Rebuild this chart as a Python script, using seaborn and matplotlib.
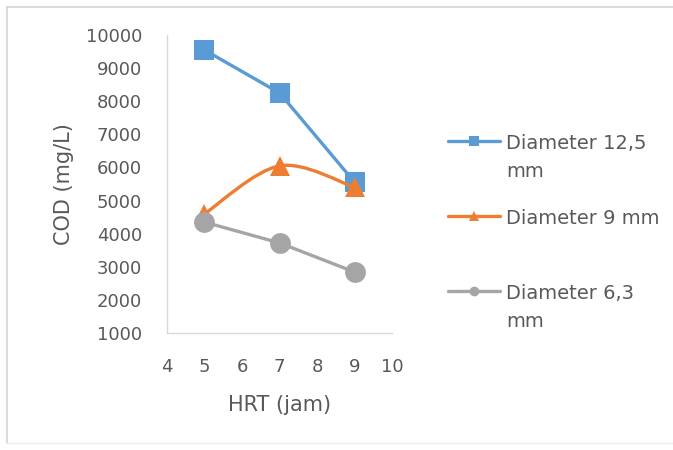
import numpy as np
import pandas as pd
import matplotlib
matplotlib.use("Agg")
import matplotlib.pyplot as plt
from matplotlib.path import Path
from matplotlib.patches import PathPatch
from matplotlib.lines import Line2D
import seaborn as sns

# HRT (hours) and COD (mg/L) for each media diameter
hrt = [5, 7, 9]
cod_12_5 = [9550, 8250, 5550]
cod_9 = [4600, 6050, 5400]
cod_6_3 = [4350, 3720, 2840]

series_labels = ["Diameter 12,5\nmm", "Diameter 9 mm", "Diameter 6,3\nmm"]
x_ticks = [4, 5, 6, 7, 8, 9, 10]
y_ticks = [1000, 2000, 3000, 4000, 5000, 6000, 7000, 8000, 9000, 10000]

BLUE = "#5B9BD5"
ORANGE = "#ED7D31"
GRAY = "#A5A5A5"
TEXT = "#595959"

sns.set_theme(style="white")
plt.rcParams["font.family"] = ["DejaVu Sans"]

fig = plt.figure(figsize=(6.73, 4.5), dpi=100)
fig.patch.set_facecolor("white")
ax = fig.add_axes([0.248, 0.26, 0.335, 0.662])

df = pd.DataFrame({"hrt": hrt, "c125": cod_12_5, "c9": cod_9, "c63": cod_6_3})

# Diameter 12,5 mm: straight segments with square markers
sns.lineplot(data=df, x="hrt", y="c125", ax=ax, color=BLUE, linewidth=2.4,
             marker="s", markersize=15, markeredgewidth=0, zorder=3)


def smooth_path(xs, ys):
    """Cubic Bezier path through the points (Catmull-Rom tangents)."""
    pts = np.column_stack([xs, ys]).astype(float)
    ext = np.vstack([pts[0], pts, pts[-1]])
    verts = [tuple(pts[0])]
    codes = [Path.MOVETO]
    for i in range(len(pts) - 1):
        p0, p1, p2, p3 = ext[i], ext[i + 1], ext[i + 2], ext[i + 3]
        c1 = p1 + (p2 - p0) / 6.0
        c2 = p2 - (p3 - p1) / 6.0
        verts += [tuple(c1), tuple(c2), tuple(p2)]
        codes += [Path.CURVE4] * 3
    return Path(verts, codes)


# Diameter 9 mm: smoothed line with triangle markers
ax.add_patch(PathPatch(smooth_path(hrt, cod_9), facecolor="none",
                       edgecolor=ORANGE, linewidth=2.4, zorder=4))
sns.lineplot(data=df, x="hrt", y="c9", ax=ax, color=ORANGE, linestyle="none",
             marker="^", markersize=14, markeredgewidth=0, zorder=4)

# Diameter 6,3 mm: straight segments with circle markers
sns.lineplot(data=df, x="hrt", y="c63", ax=ax, color=GRAY, linewidth=2.4,
             marker="o", markersize=15, markeredgewidth=0, zorder=5)

ax.set_xlim(4, 10)
ax.set_ylim(1000, 10000)
ax.set_xticks(x_ticks)
ax.set_yticks(y_ticks)
ax.tick_params(axis="both", length=0, labelsize=13, colors=TEXT, pad=18)
ax.set_xlabel("HRT (jam)", fontsize=15, color=TEXT, labelpad=14)
ax.set_ylabel("COD (mg/L)", fontsize=15, color=TEXT, labelpad=8)

for side in ["top", "right"]:
    ax.spines[side].set_visible(False)
for side in ["left", "bottom"]:
    ax.spines[side].set_color("#D9D9D9")
    ax.spines[side].set_linewidth(1.0)
ax.grid(False)

handles = [
    Line2D([], [], color=BLUE, linewidth=2.4, marker="s", markersize=7, markeredgewidth=0),
    Line2D([], [], color=ORANGE, linewidth=2.4, marker="^", markersize=7, markeredgewidth=0),
    Line2D([], [], color=GRAY, linewidth=2.4, marker="o", markersize=7, markeredgewidth=0),
]
leg = fig.legend(handles, series_labels, loc="upper left",
                 bbox_to_anchor=(0.654, 0.72), frameon=False, fontsize=14,
                 labelcolor=TEXT, handlelength=2.7, handletextpad=0.3,
                 labelspacing=1.45, borderaxespad=0)
for t in leg.get_texts():
    t.set_linespacing(1.6)
# Equal-height slots per entry, with the sample line beside the first text line
column = leg._legend_handle_box.get_children()[0]
column.mode = "equal"
for item in column.get_children():
    item.align = "top"
    handle_box = item.get_children()[0]
    handle_box.set_offset((0, -2))

# Light chart-area frame along the top and left
fig.add_artist(Line2D([0.011, 1.0], [0.985, 0.985], transform=fig.transFigure,
                      color="#D4D4D4", linewidth=1.2))
fig.add_artist(Line2D([0.011, 0.011], [0.985, 0.015], transform=fig.transFigure,
                      color="#D4D4D4", linewidth=1.2))
fig.add_artist(Line2D([0.011, 1.0], [0.015, 0.015], transform=fig.transFigure,
                      color="#EEEEEE", linewidth=1.0))

fig.savefig("out.png", dpi=100, facecolor="white")
